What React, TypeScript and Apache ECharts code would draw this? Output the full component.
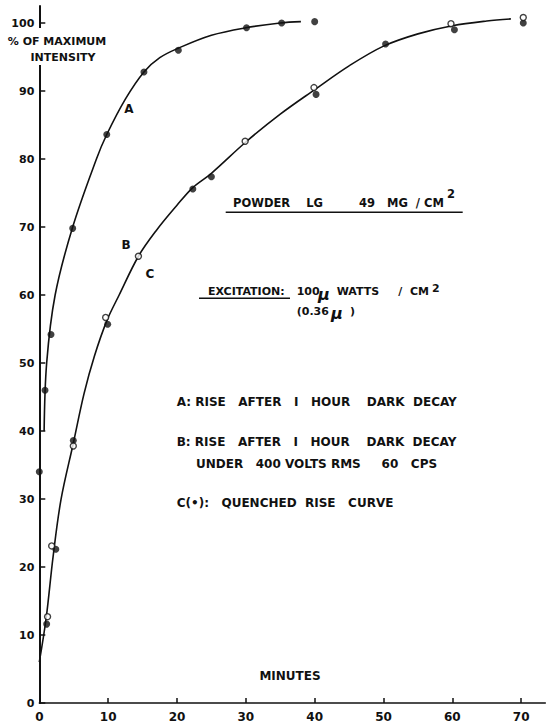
import React, { useEffect, useRef } from "react";
import * as echarts from "echarts";

// Axis ticks
const xTicks = [0, 10, 20, 30, 40, 50, 60, 70];
const yTicks = [0, 10, 20, 30, 40, 50, 60, 70, 80, 90, 100];

// Curve A: rise after 1 hour dark decay (drawn curve + measured points)
const curveA: [number, number][] = [
  [0.7, 40], [1.07, 50], [2.3, 60], [4.85, 70], [8.3, 80], [9.8, 83.6],
  [12.5, 88.8], [15.2, 92.8], [17.5, 94.9], [20.2, 96.3], [25, 98.2], [30, 99.3],
  [35, 100], [38, 100.2],
];
const pointsA: [number, number][] = [
  [0.83, 46], [1.7, 54.2], [4.85, 69.8], [9.8, 83.6], [15.2, 92.8],
  [20.2, 96], [30.1, 99.3], [35.2, 100], [40, 100.2],
];

// Curves B / C share one drawn curve
const curveBC: [number, number][] = [
  [0, 6], [1, 12.5], [2, 21.5], [3.15, 29.9], [4.94, 38.2], [6.5, 45.5], [8, 51],
  [9.8, 56.2], [11.6, 60], [14.4, 65.7], [17, 69.5], [20, 73.2], [22.3, 75.8],
  [25, 77.9], [30, 82.5], [35, 86.6], [40, 90.2], [45, 93.7], [50, 96.6],
  [55, 98.4], [60, 99.6], [65, 100.3], [68.5, 100.6],
];
// B: open circles
const pointsB: [number, number][] = [
  [1.2, 12.7], [1.8, 23.1], [4.94, 37.8], [9.64, 56.7], [14.4, 65.7],
  [29.9, 82.6], [39.9, 90.5], [59.8, 99.9], [70.3, 100.8],
];
// C: quenched rise, filled dots
const pointsC: [number, number][] = [
  [0, 34], [1.07, 11.6], [2.4, 22.6], [4.94, 38.6], [9.93, 55.7], [22.3, 75.6],
  [25, 77.4], [40.2, 89.5], [50.3, 96.9], [60.3, 99], [70.3, 100],
];

const INK = "#111";
const FONT = '"DejaVu Sans", sans-serif';

const label = (
  text: string,
  x: number,
  y: number,
  size = 12,
  align: "left" | "center" = "left",
  extra: Record<string, unknown> = {}
) => ({
  type: "text",
  x,
  y,
  z: 20,
  style: {
    text,
    fill: INK,
    font: `bold ${size}px ${FONT}`,
    textAlign: align,
    textVerticalAlign: "middle",
    ...extra,
  },
});

const rule = (x1: number, x2: number, y: number) => ({
  type: "line",
  z: 20,
  shape: { x1, y1: y, x2, y2: y },
  style: { stroke: INK, lineWidth: 1.4 },
});

export default function App() {
  const ref = useRef<HTMLDivElement>(null);

  useEffect(() => {
    if (!ref.current) return;
    const chart = echarts.init(ref.current, null, { renderer: "svg" });
    chart.setOption({
      animation: false,
      backgroundColor: "#fff",
      grid: {
        left: 39.3,
        top: 6,
        width: 506,
        height: 697,
        containLabel: false,
        outerBoundsMode: "none",
      },
      xAxis: {
        type: "value",
        min: 0,
        max: 73.5,
        axisLine: { lineStyle: { color: INK, width: 1.5 } },
        axisTick: {
          inside: true,
          length: 5,
          customValues: xTicks,
          lineStyle: { color: INK, width: 1.5 },
        },
        axisLabel: {
          customValues: xTicks,
          color: INK,
          fontFamily: FONT,
          fontWeight: "bold",
          fontSize: 12,
          lineHeight: 12,
          margin: 8,
        },
        splitLine: { show: false },
      },
      yAxis: {
        type: "value",
        min: 0,
        max: 102.5,
        axisLine: { lineStyle: { color: INK, width: 2 } },
        axisTick: {
          inside: true,
          length: 6,
          customValues: yTicks,
          lineStyle: { color: INK, width: 1.5 },
        },
        axisLabel: {
          customValues: yTicks,
          color: INK,
          fontFamily: FONT,
          fontWeight: "bold",
          fontSize: 11,
          margin: 5,
        },
        splitLine: { show: false },
      },
      series: [
        {
          type: "line",
          data: curveA,
          smooth: 0.35,
          symbol: "none",
          lineStyle: { color: INK, width: 1.6 },
          z: 2,
        },
        {
          type: "line",
          data: curveBC,
          smooth: 0.35,
          symbol: "none",
          lineStyle: { color: INK, width: 1.6 },
          z: 2,
        },
        {
          type: "scatter",
          data: pointsA,
          symbol: "circle",
          symbolSize: 7,
          itemStyle: { color: INK },
          z: 3,
        },
        {
          type: "scatter",
          data: pointsC,
          symbol: "circle",
          symbolSize: 7,
          itemStyle: { color: INK },
          z: 3,
        },
        {
          type: "scatter",
          data: pointsB,
          symbol: "circle",
          symbolSize: 6,
          itemStyle: { color: "#fff", borderColor: INK, borderWidth: 1.4 },
          z: 4,
        },
      ],
      graphic: [
        // gap in the vertical axis where its title sits
        {
          type: "rect",
          z: 15,
          shape: { x: 35, y: 28, width: 10, height: 37 },
          style: { fill: "#fff" },
        },
        label("% OF MAXIMUM", 57, 41.7, 11, "center"),
        label("INTENSITY", 63, 57.3, 11, "center"),
        label("MINUTES", 290, 676, 12, "center"),

        // curve letters
        label("A", 129, 109, 12, "center"),
        label("B", 126, 245, 12, "center"),
        label("C", 150, 274, 12, "center"),

        // sample block
        label("POWDER    LG         49   MG  / CM", 233, 203.3, 11.5),
        label("2", 447, 193.5, 11.5),
        rule(225.7, 462.7, 212.3),

        label("EXCITATION:", 208, 291, 11),
        rule(199, 290, 298.3),
        label("100", 296.7, 291, 11),
        label("μ", 318, 294, 16, "left", { font: `italic bold 16px ${FONT}` }),
        label("WATTS     /  CM", 336.7, 291, 11),
        label("2", 432, 288, 11),
        label("(0.36", 296.7, 311.3, 11),
        label("μ", 331, 313, 16, "left", { font: `italic bold 16px ${FONT}` }),
        label(")", 350, 311.3, 11),

        // key
        label("A: RISE   AFTER   I   HOUR    DARK  DECAY", 176.7, 401.7, 12),
        label("B: RISE   AFTER   I   HOUR    DARK  DECAY", 176.7, 441.7, 12),
        label("UNDER   400 VOLTS RMS     60   CPS", 196, 464, 12),
        label("C(•):   QUENCHED  RISE   CURVE", 176.7, 503.3, 12),
      ],
    });
    return () => chart.dispose();
  }, []);

  return (
    <div
      ref={ref}
      style={{
        position: "absolute",
        left: 0,
        top: 0,
        width: 547,
        height: 723,
        background: "#fff",
      }}
    />
  );
}
